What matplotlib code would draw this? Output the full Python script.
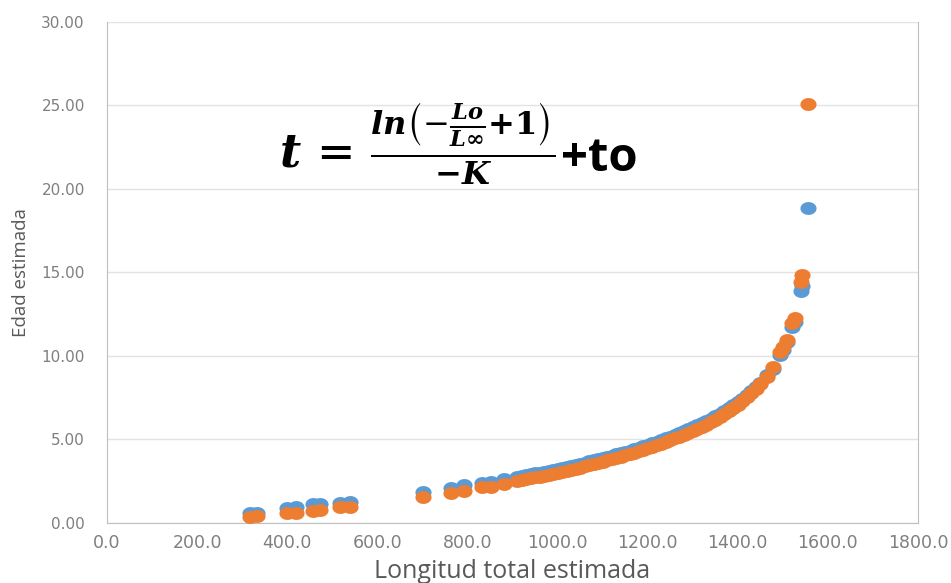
import matplotlib
matplotlib.use('Agg')
import matplotlib.pyplot as plt
from matplotlib.path import Path
import numpy as np

# longitudes (eje x), compartidas por las dos series
longitud = [317, 333, 400, 419, 457, 473, 517, 539, 701, 763, 793, 833, 852, 881,
            910, 920, 930, 940, 950, 960, 970, 980, 990, 1000, 1010, 1020, 1030, 1040,
            1050, 1060, 1070, 1080, 1090, 1100, 1110, 1120, 1130, 1140, 1150, 1160,
            1170, 1180, 1190, 1200, 1210, 1220, 1230, 1240, 1250, 1260, 1270, 1280,
            1290, 1300, 1310, 1320, 1330, 1340, 1350, 1360, 1370, 1380, 1390, 1400,
            1410, 1420, 1430, 1440, 1450, 1464, 1478, 1494, 1500, 1509, 1520, 1527,
            1540, 1542, 1556]

edad_azul = [0.58, 0.60, 0.88, 0.92, 1.12, 1.14, 1.20, 1.24, 1.84, 2.08, 2.26, 2.38, 2.44, 2.62,
             2.74, 2.79, 2.85, 2.90, 2.95, 3.00, 3.06, 3.12, 3.18, 3.23, 3.29, 3.35, 3.41, 3.47,
             3.53, 3.60, 3.67, 3.74, 3.81, 3.88, 3.95, 4.02, 4.09, 4.16, 4.24, 4.32,
             4.40, 4.48, 4.57, 4.66, 4.75, 4.85, 4.95, 5.05, 5.15, 5.26, 5.37, 5.48,
             5.59, 5.71, 5.83, 5.96, 6.09, 6.23, 6.38, 6.53, 6.69, 6.86, 7.04, 7.23,
             7.43, 7.64, 7.87, 8.11, 8.37, 8.85, 9.20, 10.05, 10.35, 10.80, 11.70, 12.00,
             13.90, 14.20, 18.85]

edad_naranja = [0.36, 0.38, 0.58, 0.60, 0.73, 0.76, 0.94, 0.96, 1.54, 1.78, 1.92, 2.14, 2.16, 2.32,
                2.50, 2.55, 2.61, 2.66, 2.71, 2.76, 2.82, 2.88, 2.94, 3.00, 3.06, 3.12, 3.18, 3.24,
                3.30, 3.37, 3.44, 3.51, 3.58, 3.65, 3.73, 3.80, 3.87, 3.95, 4.03, 4.11,
                4.19, 4.27, 4.36, 4.45, 4.54, 4.64, 4.74, 4.84, 4.94, 5.05, 5.16, 5.27,
                5.38, 5.50, 5.62, 5.75, 5.88, 6.02, 6.17, 6.33, 6.50, 6.68, 6.87, 7.07,
                7.28, 7.51, 7.76, 8.03, 8.32, 8.75, 9.33, 10.20, 10.50, 10.95, 11.98, 12.27,
                14.40, 14.85, 25.10]

xticks = np.arange(0, 1801, 200)
yticks = np.arange(0, 30.1, 5)

plt.rcParams['font.family'] = ['Open Sans', 'DejaVu Sans']
plt.rcParams['mathtext.fontset'] = 'dejavuserif'

# marcador eliptico (la imagen original esta algo estirada)
th = np.linspace(0, 2 * np.pi, 40)
elipse = Path(np.column_stack([np.cos(th), 0.8 * np.sin(th)]))

fig = plt.figure(figsize=(9.51, 5.83), dpi=100)
ax = fig.add_axes([107/951, 1 - 522.7/583, 811/951, 500.7/583])

ax.scatter(longitud, edad_azul, s=135, marker=elipse, color='#5B9BD5', linewidths=0, zorder=3)
ax.scatter(longitud, edad_naranja, s=135, marker=elipse, color='#ED7D31', linewidths=0, zorder=4)

ax.set_xlim(0, 1800)
ax.set_ylim(0, 30)
ax.set_xticks(xticks)
ax.set_xticklabels(['%.1f' % v for v in xticks], family='Liberation Sans Narrow', fontsize=12.5, color='#7f7f7f')
ax.set_yticks(yticks)
ax.set_yticklabels(['%.2f' % v for v in yticks], family='DejaVu Sans', fontsize=11, color='#7f7f7f')
ax.tick_params(axis='both', length=0)
ax.tick_params(axis='y', pad=16)
ax.tick_params(axis='x', pad=8)
ax.grid(axis='y', color='#e3e3e3', linewidth=1)
ax.set_axisbelow(True)
for side in ['left', 'right', 'bottom']:
    ax.spines[side].set_color('#bfbfbf')
ax.spines['top'].set_visible(False)

ax.set_xlabel('Longitud total estimada', fontsize=18, color='#595959', labelpad=5)
ax.set_ylabel('Edad estimada', fontsize=13.5, color='#595959', labelpad=8)

formula = (r'$\mathbfit{t}\,=\,\frac{\mathbfit{ln}\left(-\frac{\mathbfit{Lo}}{\mathbfit{L}\mathbf{\infty}}'
           r'\mathbf{+1}\right)}{\mathbf{-}\mathbfit{K}}$')
ax.text(0.553, 0.756, formula, transform=ax.transAxes, ha='right', va='center',
        fontsize=33, color='black')
ax.text(0.56, 0.727, '+to', transform=ax.transAxes, ha='left', va='center',
        fontsize=34, fontweight='bold', color='black')

fig.savefig('out.png', dpi=100)
